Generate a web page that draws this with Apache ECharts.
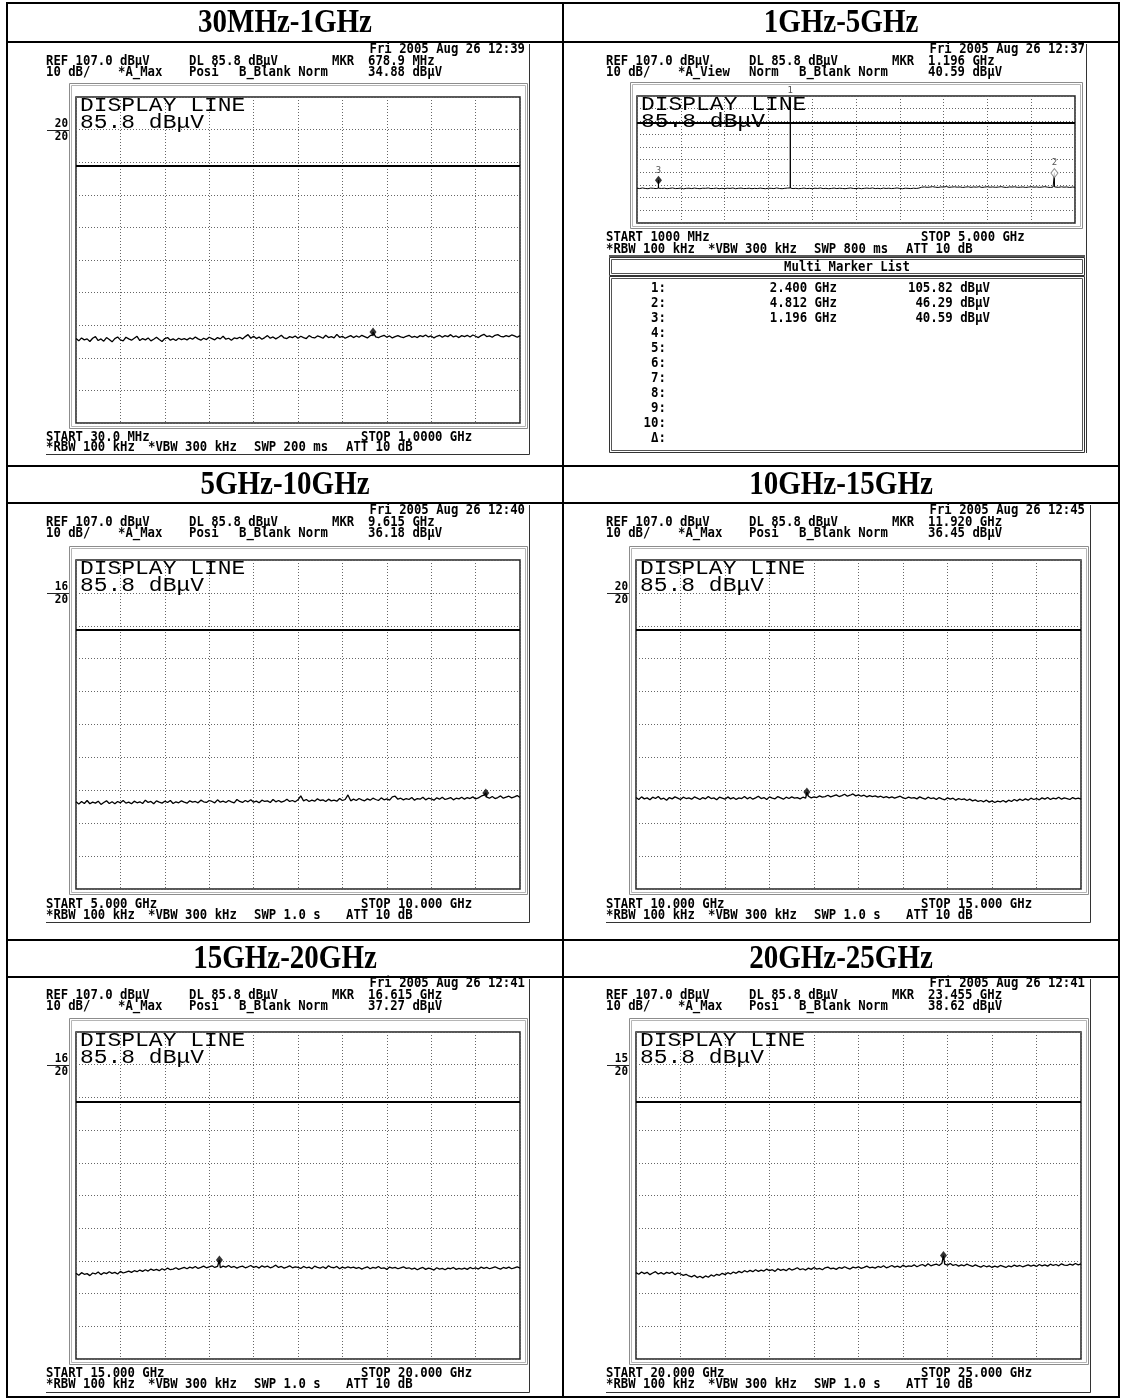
<!DOCTYPE html>
<html>
<head>
<meta charset="utf-8">
<script src="https://cdn.jsdelivr.net/npm/echarts@6/dist/echarts.min.js"></script>
<style>
  html, body { margin: 0; padding: 0; background: #fff; }
  #chart { width: 1122px; height: 1399px; }
</style>
</head>
<body>
<div id="chart"></div>
<script>
// ---- Instrument settings shared by all sweeps ----
const REF_LEVEL = 107.0;      // dBµV at the top graticule line
const DISPLAY_LINE = 85.8;    // dBµV limit (display) line

// ---- Sweep bands ----
const bandTitles = ['30MHz-1GHz', '1GHz-5GHz', '5GHz-10GHz', '10GHz-15GHz', '15GHz-20GHz', '20GHz-25GHz'];
const startMHz = [30, 1000, 5000, 10000, 15000, 20000];
const stopMHz = [1000, 5000, 10000, 15000, 20000, 25000];
const startLabels = ['START 30.0 MHz', 'START 1000 MHz', 'START 5.000 GHz', 'START 10.000 GHz', 'START 15.000 GHz', 'START 20.000 GHz'];
const stopLabels = ['STOP 1.0000 GHz', 'STOP 5.000 GHz', 'STOP 10.000 GHz', 'STOP 15.000 GHz', 'STOP 20.000 GHz', 'STOP 25.000 GHz'];
const sweepTimes = ['SWP 200 ms', 'SWP 800 ms', 'SWP 1.0 s', 'SWP 1.0 s', 'SWP 1.0 s', 'SWP 1.0 s'];
const timeStamps = ['Fri 2005 Aug 26 12:39', 'Fri 2005 Aug 26 12:37', 'Fri 2005 Aug 26 12:40',
                    'Fri 2005 Aug 26 12:45', 'Fri 2005 Aug 26 12:41', 'Fri 2005 Aug 26 12:41'];
const traceModes = ['*A_Max', '*A_View', '*A_Max', '*A_Max', '*A_Max', '*A_Max'];
const detectors = ['Posi', 'Norm', 'Posi', 'Posi', 'Posi', 'Posi'];
const scaleMarks = [['20', '20'], null, ['16', '20'], ['20', '20'], ['16', '20'], ['15', '20']];

// ---- Active marker (MKR) of each sweep ----
const activeMarkerMHz = [678.9, 1196, 9615, 11920, 16615, 23455];
const activeMarkerLevel = [34.88, 40.59, 36.18, 36.45, 37.27, 38.62];

// ---- Multi marker list of the 1-5 GHz sweep ----
const markerListNames = ['1', '2', '3'];
const markerListMHz = [2400, 4812, 1196];
const markerListLevel = [105.82, 46.29, 40.59];
const markerListRows = ['1:', '2:', '3:', '4:', '5:', '6:', '7:', '8:', '9:', '10:', '\u0394:'];

// ---- Measured traces (dBµV), 161 sweep points each ----
const trace30M1G = [
  32.9, 32.2, 33.1, 32.5, 32.8, 32.0, 33.0, 33.5, 32.3, 32.8, 32.1, 33.2, 32.6, 31.9, 32.9, 33.4, 32.5, 32.2, 33.3, 32.8,
  32.4, 33.0, 33.6, 32.3, 32.9, 32.5, 33.1, 32.2, 32.7, 33.3, 32.6, 32.0, 32.9, 33.2, 32.4, 32.8, 32.3, 33.0, 32.6, 32.9,
  32.5, 33.1, 32.7, 33.4, 32.8, 32.4, 33.0, 32.6, 33.3, 32.9, 32.5, 33.2, 32.8, 33.6, 32.7, 33.0, 32.4, 33.1, 32.9, 33.3,
  32.8, 33.5, 34.1, 33.0, 33.6, 32.9, 33.4, 32.7, 33.2, 33.8, 33.0, 33.4, 32.8, 33.3, 33.9, 33.1, 32.9, 33.5, 33.2, 33.7,
  33.0, 33.6, 33.2, 32.9, 33.8, 33.3, 33.1, 33.7, 33.4, 33.0, 33.9, 33.2, 33.5, 33.1, 34.2, 33.3, 33.6, 33.0, 33.4, 33.8,
  33.2, 33.7, 33.3, 33.9, 33.5, 33.1, 33.8, 34.0, 33.4, 33.2, 33.6, 33.9, 33.3, 33.7, 33.1, 33.5, 33.8, 33.4, 33.2, 33.6,
  33.9, 33.3, 33.6, 33.2, 33.8, 33.5, 34.0, 33.4, 33.7, 33.1, 33.6, 33.9, 33.3, 33.8, 33.5, 34.1, 33.4, 33.7, 33.2, 33.8,
  33.5, 33.9, 33.4, 34.0, 33.6, 33.2, 33.8, 34.2, 33.5, 33.7, 33.3, 33.9, 34.1, 33.6, 33.4, 33.8, 33.5, 34.0, 33.7, 33.3, 33.8
];
const trace1G5G = [
  34.4, 34.1, 34.6, 34.2, 34.0, 34.5, 34.3, 34.1, 34.7, 34.2, 34.4, 34.0, 34.3, 34.6, 34.1, 34.2, 34.5, 33.9, 34.3, 34.4,
  34.1, 34.5, 34.2, 34.0, 34.4, 34.3, 34.6, 34.1, 34.2, 34.5, 34.0, 34.3, 34.1, 34.4, 34.2, 34.6, 34.0, 34.3, 34.5, 34.1,
  34.2, 34.4, 34.0, 34.3, 34.1, 34.5, 34.2, 34.0, 34.4, 34.3, 34.1, 34.6, 34.2, 34.0, 34.3, 34.5, 34.4, 34.1, 34.3, 34.0,
  34.2, 34.5, 34.1, 34.3, 34.0, 34.4, 34.2, 34.6, 34.1, 34.3, 34.0, 34.2, 34.5, 34.1, 34.4, 34.2, 34.0, 34.3, 34.6, 34.2,
  34.1, 34.4, 34.0, 34.3, 34.5, 34.2, 34.6, 34.1, 34.3, 34.0, 34.5, 34.2, 34.4, 34.1, 34.3, 34.6, 34.2, 34.0, 34.4, 34.3,
  34.1, 34.4, 34.2, 34.5, 35.2, 35.4, 35.1, 35.3, 35.6, 35.2, 35.0, 35.4, 35.3, 35.7, 35.1, 35.3, 35.5, 35.2, 35.4, 35.0,
  35.3, 35.5, 35.1, 35.4, 35.2, 35.6, 35.0, 35.3, 35.5, 35.2, 35.4, 35.1, 35.3, 35.6, 35.2, 35.0, 35.4, 35.3, 35.5, 35.1,
  35.2, 35.4, 35.0, 35.3, 35.5, 35.2, 35.4, 35.1, 35.3, 35.6, 35.2, 35.0, 35.3, 35.4, 35.1, 35.5, 35.2, 35.4, 35.0, 35.3, 35.2
];
const trace5G10G = [
  33.5, 32.8, 33.6, 33.0, 33.9, 32.9, 33.4, 33.1, 33.7, 32.7, 33.3, 33.8, 33.0, 33.5, 32.9, 33.6, 33.2, 33.9, 33.1, 33.4,
  32.9, 33.7, 33.2, 33.5, 33.0, 34.0, 33.3, 33.6, 32.9, 33.8, 33.4, 33.1, 33.7, 33.3, 33.9, 33.0, 33.5, 33.2, 33.8, 33.4,
  33.1, 33.8, 33.4, 33.6, 33.2, 34.0, 33.5, 33.3, 33.9, 33.6, 33.2, 34.1, 33.4, 33.7, 33.3, 33.9, 33.5, 33.2, 34.2, 33.6,
  33.3, 33.9, 33.5, 34.1, 33.4, 33.7, 33.2, 34.0, 33.6, 33.8, 33.3, 34.2, 33.5, 33.9, 33.4, 33.7, 34.3, 33.6, 33.9, 33.5,
  34.1, 35.3, 33.8, 34.2, 33.6, 34.0, 33.7, 34.4, 33.9, 34.1, 33.6, 34.3, 33.8, 34.0, 33.7, 34.5, 33.9, 34.2, 35.6, 33.8,
  34.3, 33.9, 34.5, 34.1, 33.8, 34.4, 34.0, 34.6, 34.2, 33.9, 34.7, 34.1, 34.4, 34.0, 35.0, 35.2, 34.3, 34.6, 34.1, 34.5,
  34.2, 34.8, 34.0, 34.5, 34.3, 34.9, 34.1, 34.6, 34.4, 34.0, 34.7, 34.3, 34.9, 34.2, 34.5, 34.8, 34.1, 34.6, 34.4, 34.9,
  34.3, 34.8, 34.5, 35.0, 34.4, 34.7, 35.2, 35.5, 34.9, 34.6, 35.1, 34.5, 34.8, 35.3, 34.6, 34.9, 35.2, 34.7, 35.0, 35.4, 34.8
];
const trace10G15G = [
  34.8, 34.2, 35.0, 34.4, 34.7, 34.1, 34.9, 34.5, 35.1, 34.3, 34.6, 34.0, 34.8, 34.4, 35.0, 34.6, 34.2, 34.9, 34.5, 34.7,
  34.3, 35.0, 34.6, 34.2, 34.8, 34.4, 35.1, 34.5, 34.7, 34.1, 34.9, 34.6, 34.3, 35.0, 34.4, 34.8, 34.2, 34.7, 34.5, 35.1,
  34.4, 34.9, 34.3, 34.7, 35.2, 34.5, 34.8, 34.2, 35.0, 34.6, 34.4, 35.1, 34.7, 34.3, 34.9, 34.5, 35.0, 34.6, 34.8, 34.4,
  34.9, 34.6, 35.2, 34.7, 35.0, 34.8, 35.3, 34.9, 35.1, 35.5, 35.0, 35.3, 35.6, 35.1, 35.4, 35.8, 35.2, 35.5, 35.9, 35.3,
  35.6, 35.2, 35.5, 35.0, 35.4, 35.1, 35.3, 34.9, 35.2, 34.8, 35.1, 34.7, 35.0, 34.6, 34.9, 35.2, 34.7, 34.5, 34.9, 34.6,
  34.8, 34.4, 35.0, 34.6, 34.3, 34.9, 34.5, 34.7, 34.2, 34.8, 34.4, 34.1, 34.7, 34.3, 34.6, 34.0, 34.5, 34.2, 34.4, 33.9,
  34.3, 33.8, 34.1, 33.6, 33.9, 33.5, 34.0, 33.4, 33.8, 33.3, 33.7, 33.5, 33.9, 33.4, 34.0, 33.6, 34.2, 33.8, 34.3, 33.9,
  34.4, 34.0, 34.6, 34.2, 34.5, 34.1, 34.7, 34.3, 34.8, 34.2, 34.6, 34.4, 34.9, 34.3, 34.7, 34.5, 34.2, 34.8, 34.4, 34.6, 34.3
];
const trace15G20G = [
  33.2, 32.6, 33.4, 32.9, 33.1, 32.5, 33.3, 33.0, 33.6, 32.8, 33.4, 33.1, 33.7, 33.2, 33.5, 33.0, 33.8, 33.3, 33.6, 33.9,
  33.5, 34.0, 33.7, 34.2, 33.8, 34.3, 33.9, 34.5, 34.1, 34.4, 34.0, 34.6, 34.2, 34.8, 34.3, 34.5, 34.9, 34.4, 34.7, 35.0,
  34.6, 35.1, 34.8, 35.3, 34.7, 35.0, 35.4, 34.9, 35.2, 35.5, 35.0, 35.3, 34.9, 35.4, 35.1, 35.6, 35.0, 35.3, 34.8, 35.2,
  35.4, 34.9, 35.2, 35.6, 35.0, 35.3, 34.8, 35.5, 35.1, 35.4, 34.9, 35.2, 35.7, 35.0, 35.3, 34.8, 35.1, 35.5, 34.9, 35.2,
  35.0, 34.7, 35.3, 34.9, 35.1, 34.6, 35.4, 35.0, 34.8, 35.2, 34.7, 35.5, 35.0, 34.9, 35.3, 34.6, 35.1, 34.8, 35.2, 34.9,
  35.1, 34.7, 35.0, 34.5, 34.9, 35.2, 34.6, 35.0, 34.8, 35.3, 34.7, 34.9, 34.4, 35.1, 34.8, 35.0, 34.6, 34.9, 35.2, 34.7,
  34.9, 34.5, 34.8, 34.3, 34.7, 35.0, 34.4, 34.8, 34.6, 34.2, 34.9, 34.5, 34.7, 34.3, 34.8, 34.6, 35.0, 34.4, 34.7, 34.5,
  34.8, 34.4, 35.0, 34.6, 34.9, 34.5, 35.1, 34.7, 35.0, 34.6, 34.9, 35.2, 34.8, 34.5, 35.0, 34.7, 35.1, 34.6, 34.9, 35.2, 34.8
];
const trace20G25G = [
  33.4, 32.9, 33.6, 33.1, 33.5, 32.8, 33.3, 33.7, 33.0, 33.4, 32.9, 33.5, 33.2, 33.6, 32.8, 33.3, 33.0, 32.6, 32.9, 32.4,
  32.1, 32.6, 31.9, 32.3, 31.8, 32.4, 32.0, 32.7, 32.3, 32.9, 32.6, 33.2, 32.8, 33.4, 33.0, 33.6, 33.2, 33.8, 33.4, 34.0,
  33.6, 34.1, 33.7, 34.3, 33.8, 34.2, 33.9, 34.5, 34.0, 34.3, 33.8, 34.6, 34.1, 34.4, 34.0, 34.7, 34.2, 34.5, 34.9, 34.3,
  34.6, 34.2, 34.8, 34.4, 35.0, 34.5, 34.7, 34.3, 34.9, 35.1, 34.6, 34.8, 34.4, 35.0, 34.7, 35.2, 34.8, 34.5, 35.1, 34.9,
  35.2, 34.7, 35.0, 35.4, 34.9, 35.1, 34.8, 35.3, 35.0, 35.5, 34.9, 35.2, 35.6, 35.1, 35.4, 35.0, 35.7, 35.2, 35.5, 35.3,
  35.8, 35.2, 35.6, 35.9, 35.4, 36.1, 35.5, 35.8, 36.0, 35.6, 36.3, 36.0, 35.7, 36.2, 35.6, 35.9, 35.4, 35.8, 35.5, 36.0,
  35.6, 35.3, 35.8, 35.4, 35.1, 35.6, 35.2, 35.5, 35.0, 35.4, 35.1, 35.6, 35.3, 35.0, 35.5, 35.2, 35.7, 35.3, 35.6, 35.2,
  35.5, 35.8, 35.4, 35.7, 35.3, 35.9, 35.5, 35.8, 35.4, 36.0, 35.6, 35.9, 35.5, 36.1, 35.7, 35.6, 36.0, 35.7, 36.2, 35.8, 36.1
];
const traces = [trace30M1G, trace1G5G, trace5G10G, trace10G15G, trace15G20G, trace20G25G];

// narrow-line shoulders of the three signals in the 1-5 GHz sweep [MHz, dBµV]
const spikeShoulders1G5G = [[1195, 34.5], [1197, 34.4], [2399, 34.6], [2401, 34.5], [4811, 35.3], [4813, 35.4]];

// ---- Page geometry (pixels) ----
const panelBoxes = [
  { gl: 76,  gt: 97,   gw: 444, gh: 326, bx: 46,  row: 0 },
  { gl: 637, gt: 96,   gw: 438, gh: 127, bx: 606, row: 0 },
  { gl: 76,  gt: 560,  gw: 444, gh: 329, bx: 46,  row: 1 },
  { gl: 636, gt: 560,  gw: 445, gh: 329, bx: 606, row: 1 },
  { gl: 76,  gt: 1032, gw: 444, gh: 327, bx: 46,  row: 2 },
  { gl: 636, gt: 1032, gw: 445, gh: 327, bx: 606, row: 2 }
];
const rowBands = [
  { band: [3, 42],    fri: 49,  l1: 61,  l2: 72,   start: 437,  rbw: 447,  edge: 454 },
  { band: [466, 503], fri: 510, l1: 522, l2: 533,  start: 904,  rbw: 915,  edge: 922 },
  { band: [940, 977], fri: 983, l1: 995, l2: 1006, start: 1373, rbw: 1384, edge: 1392 }
];
const tableX = [7, 563, 1119];

const MONO = 'DejaVu Sans Mono';
const MU = '\u00b5';
const HDR = { sy: 1.12, weight: 'bold', size: 12.3 };

function txt(x, y, s, o) {
  o = o || {};
  return {
    type: 'text', x: x, y: y, silent: true, z: o.z || 20,
    scaleX: o.sx || 1, scaleY: o.sy || 1,
    style: {
      text: s, fill: o.color || '#000',
      fontFamily: o.family || MONO, fontSize: o.size || 12.3, fontWeight: o.weight || 'normal',
      align: o.align || 'left', verticalAlign: 'middle',
      textAlign: o.align || 'left', textVerticalAlign: 'middle'
    }
  };
}
function hdr(x, y, s, extra) { return txt(x, y, s, Object.assign({}, HDR, extra || {})); }
function seg(x1, y1, x2, y2, color, w) {
  return { type: 'line', silent: true, z: 15, shape: { x1: x1, y1: y1, x2: x2, y2: y2 },
           style: { stroke: color, lineWidth: w } };
}
function box(x, y, w, h, color, lw) {
  return { type: 'rect', silent: true, z: 15, shape: { x: x, y: y, width: w, height: h },
           style: { fill: 'none', stroke: color, lineWidth: lw || 1 } };
}
function mkrFreqText(k) {
  const f = activeMarkerMHz[k];
  return f < 1000 ? f.toFixed(1) + ' MHz' : (f / 1000).toFixed(3) + ' GHz';
}

// trace points relative to the band start and to the reference level
function buildTrace(k, extra) {
  const levels = traces[k];
  const span = stopMHz[k] - startMHz[k];
  const pts = levels.map((v, i) => [startMHz[k] + i * span / (levels.length - 1), v]);
  const merged = pts.filter(p => !extra.some(e => Math.abs(e[0] - p[0]) < 1e-6)).concat(extra);
  merged.sort((a, b) => a[0] - b[0]);
  return merged.map(p => [p[0] - startMHz[k], +(p[1] - REF_LEVEL).toFixed(3)]);
}

const grids = [], xAxes = [], yAxes = [], series = [], elements = [];

// ---- table frame and band titles ----
const hLines = [3, 42, 466, 503, 940, 977, 1397];
hLines.forEach(y => elements.push(seg(tableX[0] - 1, y, tableX[2] + 1, y, '#000', 2)));
tableX.forEach(x => elements.push(seg(x, 2, x, 1398, '#000', 2)));
bandTitles.forEach((t, k) => {
  const col = k % 2, row = Math.floor(k / 2);
  const cx = (tableX[col] + tableX[col + 1]) / 2;
  const cy = (rowBands[row].band[0] + rowBands[row].band[1]) / 2 + 1;
  elements.push(txt(cx, cy, t, { family: 'Liberation Serif', weight: 'bold', size: 29, align: 'center', sy: 1.15 }));
});

panelBoxes.forEach((p, k) => {
  const rb = rowBands[p.row];
  const span = stopMHz[k] - startMHz[k];
  const isList = (k === 1);
  const startY = isList ? 237 : rb.start;
  const rbwY = isList ? 249 : rb.rbw;

  grids.push({ left: p.gl, top: p.gt, width: p.gw, height: p.gh, show: true,
               borderColor: '#222', borderWidth: 1.5, backgroundColor: 'transparent' });
  xAxes.push({ type: 'value', gridIndex: k, min: 0, max: span, interval: span / 10,
               axisLine: { show: false }, axisTick: { show: false }, axisLabel: { show: false },
               splitLine: { show: true, lineStyle: { color: '#666', width: 1, type: [1, 2] } } });
  yAxes.push({ type: 'value', gridIndex: k, min: -100, max: 0, interval: 10,
               axisLine: { show: false }, axisTick: { show: false }, axisLabel: { show: false },
               splitLine: { show: true, lineStyle: { color: '#666', width: 1, type: [1, 2] } } });

  // trace with its peak points
  let extra;
  if (isList) {
    extra = spikeShoulders1G5G.concat(markerListMHz.map((f, i) => [f, markerListLevel[i]]));
  } else {
    extra = [[activeMarkerMHz[k], activeMarkerLevel[k]]];
  }
  series.push({
    type: 'line', xAxisIndex: k, yAxisIndex: k, data: buildTrace(k, extra),
    showSymbol: false, symbol: 'none', silent: true, z: 3,
    lineStyle: { color: '#000', width: isList ? 1 : 1.3 },
    markLine: { silent: true, symbol: 'none', label: { show: false },
                lineStyle: { color: '#000', width: 2, type: 'solid' },
                data: [{ yAxis: DISPLAY_LINE - REF_LEVEL }] }
  });

  // markers
  if (isList) {
    const mdata = markerListMHz.map((f, i) => {
      const item = { value: [f - startMHz[k], markerListLevel[i] - REF_LEVEL],
                     label: { show: true, formatter: markerListNames[i], position: 'top', distance: 1,
                              fontFamily: MONO, fontSize: 9, color: '#222' } };
      if (i === 0) { item.symbolSize = 0; item.label.distance = 2; }
      else if (i === 1) { item.itemStyle = { color: '#fff', borderColor: '#777', borderWidth: 1 }; }
      else { item.itemStyle = { color: '#000' }; }
      return item;
    });
    series.push({ type: 'scatter', xAxisIndex: k, yAxisIndex: k, z: 6, silent: true,
                  symbol: 'diamond', symbolSize: [7, 9], data: mdata });
  } else {
    series.push({ type: 'scatter', xAxisIndex: k, yAxisIndex: k, z: 6, silent: true,
                  symbol: 'diamond', symbolSize: [7, 9], itemStyle: { color: '#000' },
                  data: [[activeMarkerMHz[k] - startMHz[k], activeMarkerLevel[k] - REF_LEVEL]] });
  }

  // screen frame (double grey line)
  const fx = p.gl - 7, fy = p.gt - 14, fw = p.gw + 14, fh = p.gh + 19;
  elements.push(box(fx + 0.5, fy + 0.5, fw, fh, '#8c8c8c', 1));
  elements.push(box(fx + 2.5, fy + 2.5, fw - 4, fh - 4, '#b5b5b5', 1));

  // screenshot edge (right and bottom)
  const ex = p.gl + p.gw + 9.5;
  if (isList) {
    elements.push(seg(1086.5, rb.band[1] + 2, 1086.5, 453, '#333', 1));
  } else {
    elements.push(seg(ex, rb.band[1] + 2, ex, rb.edge + 0.5, '#333', 1));
    elements.push(seg(p.bx, rb.edge + 0.5, ex, rb.edge + 0.5, '#333', 1));
  }

  // instrument header
  const bx = p.bx;
  elements.push(hdr(bx + 479, rb.fri, timeStamps[k], { align: 'right' }));
  elements.push(hdr(bx, rb.l1, 'REF ' + REF_LEVEL.toFixed(1) + ' dB' + MU + 'V'));
  elements.push(hdr(bx + 143, rb.l1, 'DL ' + DISPLAY_LINE.toFixed(1) + ' dB' + MU + 'V'));
  elements.push(hdr(bx + 286, rb.l1, 'MKR'));
  elements.push(hdr(bx + 322, rb.l1, mkrFreqText(k)));
  elements.push(hdr(bx, rb.l2, '10 dB/'));
  elements.push(hdr(bx + 72, rb.l2, traceModes[k]));
  elements.push(hdr(bx + 143, rb.l2, detectors[k]));
  elements.push(hdr(bx + 193, rb.l2, 'B_Blank Norm'));
  elements.push(hdr(bx + 322, rb.l2, activeMarkerLevel[k].toFixed(2) + ' dB' + MU + 'V'));

  // display line caption inside the graticule
  elements.push(txt(p.gl + 4, p.gt + 9, 'DISPLAY LINE', { family: 'Liberation Mono', size: 17, sx: 1.35, sy: 1.15 }));
  elements.push(txt(p.gl + 4, p.gt + 26, DISPLAY_LINE.toFixed(1) + ' dB\u03bcV', { family: 'Liberation Mono', size: 17, sx: 1.35, sy: 1.15 }));

  // scale marks left of the graticule
  if (scaleMarks[k]) {
    elements.push(hdr(p.gl - 8, p.gt + 27, scaleMarks[k][0], { align: 'right', size: 11 }));
    elements.push(seg(bx + 1, p.gt + 33.5, p.gl - 7, p.gt + 33.5, '#222', 1));
    elements.push(hdr(p.gl - 8, p.gt + 40, scaleMarks[k][1], { align: 'right', size: 11 }));
  }

  // sweep settings below the screen
  elements.push(hdr(bx, startY, startLabels[k]));
  elements.push(hdr(bx + 315, startY, stopLabels[k]));
  elements.push(hdr(bx, rbwY, '*RBW 100 kHz'));
  elements.push(hdr(bx + 102, rbwY, '*VBW 300 kHz'));
  elements.push(hdr(bx + 208, rbwY, sweepTimes[k]));
  elements.push(hdr(bx + 300, rbwY, 'ATT 10 dB'));
});

// ---- multi marker list (1-5 GHz sweep) ----
elements.push(seg(609, 256, 1085, 256, '#222', 1.5));
elements.push(box(609.5, 257.5, 475, 18, '#333', 1));
elements.push(box(611.5, 259.5, 471, 14, '#555', 1));
elements.push(hdr(847, 267, 'Multi Marker List', { align: 'center' }));
elements.push(box(609.5, 276.5, 475, 176, '#333', 1));
elements.push(box(611.5, 278.5, 471, 172, '#555', 1));
markerListRows.forEach((r, i) => {
  const y = 288 + i * 15;
  elements.push(hdr(666, y, r, { align: 'right', size: 12.4 }));
  if (i < markerListMHz.length) {
    elements.push(hdr(837, y, (markerListMHz[i] / 1000).toFixed(3) + ' GHz', { align: 'right', size: 12.4 }));
    elements.push(hdr(990, y, markerListLevel[i].toFixed(2) + ' dB' + MU + 'V', { align: 'right', size: 12.4 }));
  }
});

const chart = echarts.init(document.getElementById('chart'), null, { renderer: 'canvas' });
chart.setOption({
  animation: false,
  backgroundColor: '#fff',
  grid: grids,
  xAxis: xAxes,
  yAxis: yAxes,
  series: series,
  graphic: { elements: elements }
});
</script>
</body>
</html>
